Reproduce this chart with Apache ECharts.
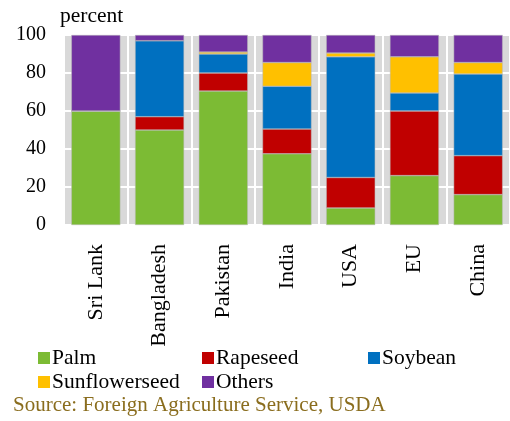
<!DOCTYPE html>
<html>
<head>
<meta charset="utf-8">
<script src="https://cdn.jsdelivr.net/npm/echarts@6/dist/echarts.min.js"></script>
<style>
html,body{margin:0;padding:0;background:#fff;}
#c{width:510px;height:421px;}
</style>
</head>
<body>
<div id="c"></div>
<script>
const categories = ['Sri Lank', 'Bangladesh', 'Pakistan', 'India', 'USA', 'EU', 'China'];
const palm      = [60, 50, 70.5, 37.5, 9, 26, 16];
const rapeseed  = [0, 7, 9.5, 13, 16, 34, 20.5];
const soybean   = [0, 40, 10, 22.5, 63.5, 9.5, 43];
const sunflower = [0, 0, 1, 12.5, 2, 19, 6];
const others    = [40, 3, 9, 14.5, 9.5, 11.5, 14.5];
const yTicks = [0, 20, 40, 60, 80, 100];
const seriesNames = ['Palm', 'Rapeseed', 'Soybean', 'Sunflowerseed', 'Others'];
const seriesData = [palm, rapeseed, soybean, sunflower, others];
const colors = ['#7cbb34', '#c00000', '#0070c0', '#ffc000', '#7030a0'];

const FONT = '"Liberation Serif", "DejaVu Serif", serif';
const chart = echarts.init(document.getElementById('c'), null, {renderer: 'canvas'});

const legendPos = [
  {left: 38, top: 347}, {left: 202, top: 347}, {left: 368, top: 347},
  {left: 38, top: 371}, {left: 202, top: 371}
];

chart.setOption({
  animation: false,
  backgroundColor: '#ffffff',
  color: colors,
  grid: {
    left: 64, top: 35, right: -9, bottom: 196,
    show: true, backgroundColor: '#d9d9d9', borderWidth: 0
  },
  legend: seriesNames.map((n, i) => ({
    data: [n],
    left: legendPos[i].left, top: legendPos[i].top,
    itemWidth: 12, itemHeight: 12, itemGap: 0, icon: 'rect',
    padding: 0,
    itemStyle: {borderWidth: 0},
    textStyle: {fontFamily: FONT, fontSize: 21.5, color: '#000', padding: [0, 0, 0, -3]}
  })),
  title: {
    text: 'Source: Foreign Agriculture Service, USDA',
    left: 13, top: 395, padding: 0,
    textStyle: {fontFamily: FONT, fontSize: 21, fontWeight: 'normal', color: '#8a6d1e'}
  },
  xAxis: {
    type: 'category',
    data: categories,
    axisLine: {show: false},
    axisTick: {show: false},
    splitLine: {show: true, lineStyle: {color: '#ffffff', width: 2}},
    axisLabel: {
      rotate: 90, margin: 19, interval: 0,
      fontFamily: FONT, fontSize: 22, color: '#000'
    }
  },
  yAxis: {
    type: 'value', min: 0, max: 100, interval: 20,
    name: 'percent',
    nameLocation: 'end',
    nameGap: 8,
    nameTextStyle: {fontFamily: FONT, fontSize: 21.5, color: '#000', align: 'left', padding: [0, 0, 0, -4]},
    axisLine: {show: false},
    axisTick: {show: false},
    splitLine: {show: true, lineStyle: {color: '#ffffff', width: 2}},
    axisLabel: {
      margin: 18, fontFamily: FONT, fontSize: 20, color: '#000',
      formatter: v => yTicks.includes(v) ? String(v) : ''
    }
  },
  series: seriesNames.map((n, i) => ({
    name: n,
    type: 'bar',
    stack: 'total',
    barWidth: 49,
    data: seriesData[i],
    itemStyle: {color: colors[i], borderColor: '#b8b8b8', borderWidth: 0.5}
  }))
});
</script>
</body>
</html>
